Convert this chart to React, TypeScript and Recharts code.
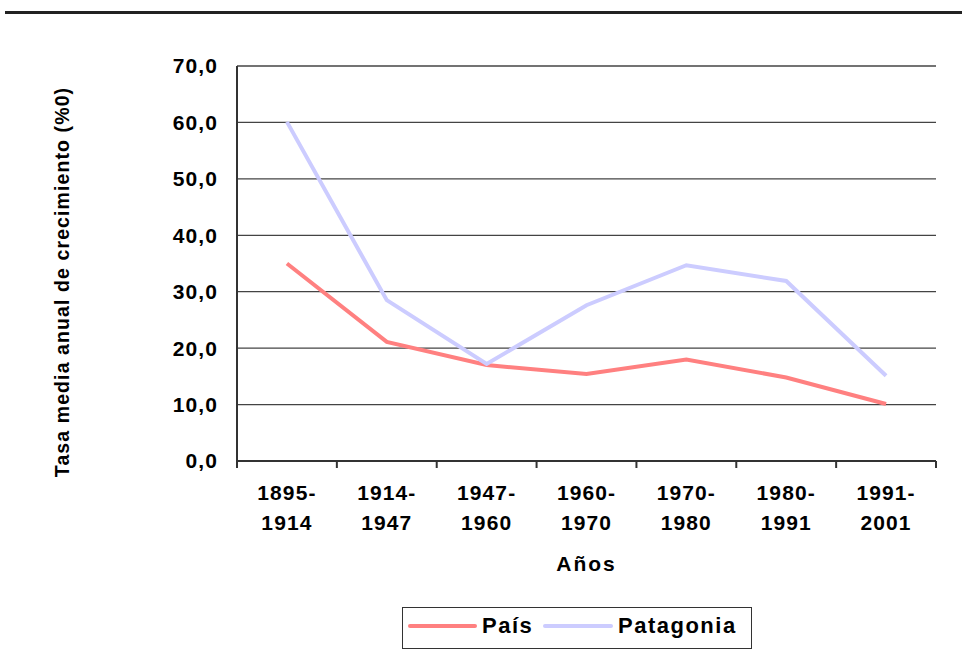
import { LineChart, Line, XAxis, YAxis, CartesianGrid, Label } from "recharts"

const periodos = ["1895-1914", "1914-1947", "1947-1960", "1960-1970", "1970-1980", "1980-1991", "1991-2001"]
const pais = [35.0, 21.1, 17.0, 15.4, 18.0, 14.8, 10.1]
const patagonia = [60.1, 28.5, 17.2, 27.6, 34.7, 31.9, 15.1]
const yTicks = [0, 10, 20, 30, 40, 50, 60, 70]

const seriesNames = ["País", "Patagonia"]
const seriesColors = ["#FF8080", "#CCCCFF"]

const data = periodos.map((p, i) => ({ periodo: p, pais: pais[i], patagonia: patagonia[i] }))

const FONT = "Arial, 'Liberation Sans', sans-serif"

function PeriodTick(props: any) {
  const { x, y, payload, index } = props
  const half = payload.offset ?? 50
  const [a, b] = String(payload.value).split("-")
  return (
    <g>
      <line x1={x - half} y1={y} x2={x - half} y2={y + 7} stroke="#333" strokeWidth={2} />
      {index === periodos.length - 1 && (
        <line x1={x + half} y1={y} x2={x + half} y2={y + 7} stroke="#333" strokeWidth={2} />
      )}
      <text x={x} y={y + 39} textAnchor="middle" fontFamily={FONT} fontWeight="bold" fontSize={21} letterSpacing={1.1} fill="#000">
        {a + "-"}
      </text>
      <text x={x} y={y + 69} textAnchor="middle" fontFamily={FONT} fontWeight="bold" fontSize={21} letterSpacing={1.1} fill="#000">
        {b}
      </text>
    </g>
  )
}

function YTitle(props: any) {
  const { viewBox } = props
  const cx = viewBox.x + 62
  const cy = viewBox.y + 216
  return (
    <text
      x={cx}
      y={cy}
      transform={`rotate(-90 ${cx} ${cy})`}
      textAnchor="middle"
      dominantBaseline="central"
      fontFamily={FONT}
      fontWeight="bold"
      fontSize={19.5}
      letterSpacing={1.1}
      fill="#000"
    >
      Tasa media anual de crecimiento (%0)
    </text>
  )
}

export default function App() {
  return (
    <div style={{ position: "absolute", left: 0, top: 0, width: 962, height: 664, background: "#fff" }}>
      <div style={{ position: "absolute", left: 5, top: 11, width: 957, height: 3, background: "#222" }} />
      <LineChart width={962} height={664} data={data} margin={{ top: 66, right: 26, left: 0, bottom: 103 }}>
        <CartesianGrid vertical={false} stroke="#444" strokeWidth={1.3} yAxisId="left" />
        <XAxis
          dataKey="periodo"
          scale="band"
          height={100}
          interval={0}
          tickLine={false}
          tickSize={0}
          tickMargin={0}
          tick={<PeriodTick />}
          axisLine={{ stroke: "#333", strokeWidth: 2 }}
        >
          <Label
            value="Años"
            position="insideBottom"
            content={(p: any) => (
              <text
                x={p.viewBox.x + p.viewBox.width / 2}
                y={p.viewBox.y + 110}
                textAnchor="middle"
                fontFamily={FONT}
                fontWeight="bold"
                fontSize={21}
                letterSpacing={2}
                fill="#000"
              >
                Años
              </text>
            )}
          />
        </XAxis>
        <YAxis
          yAxisId="left"
          width={237}
          domain={[0, 70]}
          ticks={yTicks}
          tickLine={false}
          tickSize={0}
          tickMargin={19}
          axisLine={{ stroke: "#333", strokeWidth: 2 }}
          tick={{ fontFamily: FONT, fontWeight: "bold", fontSize: 21, fill: "#000", letterSpacing: 1.1 } as any}
          tickFormatter={(v: number) => v.toFixed(1).replace(".", ",")}
        >
          <Label content={<YTitle />} />
        </YAxis>
        <YAxis
          yAxisId="right"
          orientation="right"
          width={0}
          domain={[0, 70]}
          tick={false}
          tickLine={false}
          axisLine={{ stroke: "#aaa", strokeWidth: 2 }}
        />
        <Line yAxisId="left" type="linear" dataKey="pais" name={seriesNames[0]} stroke={seriesColors[0]} strokeWidth={4} dot={false} isAnimationActive={false} />
        <Line yAxisId="left" type="linear" dataKey="patagonia" name={seriesNames[1]} stroke={seriesColors[1]} strokeWidth={4} dot={false} isAnimationActive={false} />
      </LineChart>
      <svg style={{ position: "absolute", left: 402, top: 607 }} width={351} height={43}>
        <rect x={0.5} y={0.5} width={349} height={41} fill="#fff" stroke="#333" strokeWidth={1} />
        <line x1={8} y1={19} x2={73} y2={19} stroke={seriesColors[0]} strokeWidth={4} strokeLinecap="round" />
        <text x={80} y={26} fontFamily={FONT} fontWeight="bold" fontSize={22} letterSpacing={1.5} fill="#000">
          {seriesNames[0]}
        </text>
        <line x1={143} y1={19} x2={209} y2={19} stroke={seriesColors[1]} strokeWidth={4} strokeLinecap="round" />
        <text x={216} y={26} fontFamily={FONT} fontWeight="bold" fontSize={22} letterSpacing={1.5} fill="#000">
          {seriesNames[1]}
        </text>
      </svg>
    </div>
  )
}
